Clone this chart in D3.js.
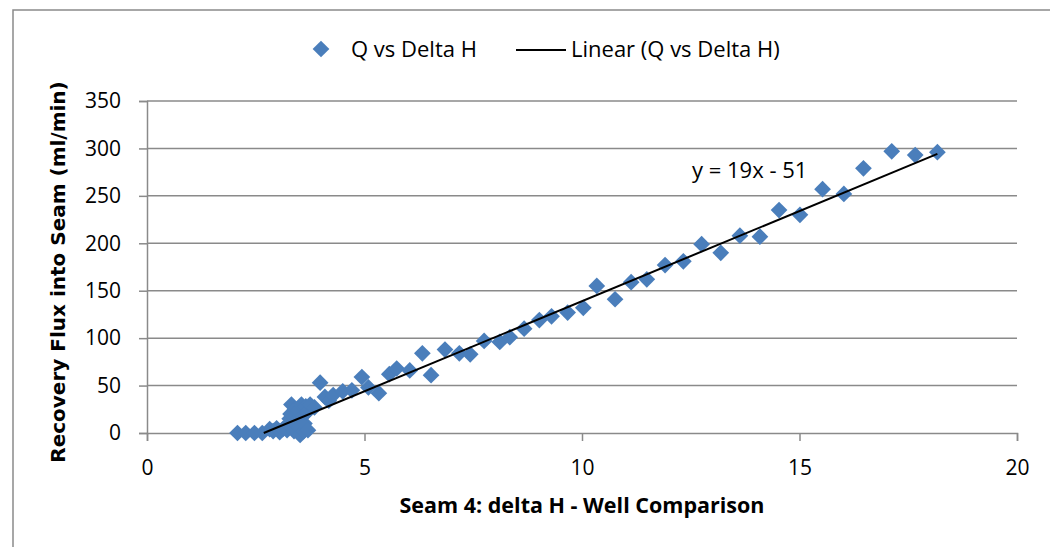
<!DOCTYPE html>
<html>
<head>
<meta charset="utf-8">
<script src="https://cdn.jsdelivr.net/npm/d3@7"></script>
<style>
  html, body { margin: 0; padding: 0; background: #fff; }
  svg { display: block; }
</style>
</head>
<body>
<svg id="chart" width="1050" height="547"></svg>
<script>
// ---- data ----
const deltaH = [2.08, 2.27, 2.47, 2.65, 2.82, 2.90, 2.98, 3.05, 3.12, 3.18, 3.22, 3.28, 3.30, 3.30, 3.32, 3.38, 3.40, 3.42, 3.45, 3.48, 3.50, 3.52, 3.55, 3.58, 3.60, 3.62, 3.65, 3.68, 3.70, 3.75, 3.85, 3.98, 4.09, 4.18, 4.28, 4.50, 4.71, 4.94, 5.09, 5.33, 5.57, 5.74, 6.04, 6.33, 6.53, 6.85, 7.18, 7.43, 7.75, 8.11, 8.34, 8.67, 9.02, 9.30, 9.67, 10.03, 10.34, 10.76, 11.13, 11.49, 11.91, 12.33, 12.75, 13.19, 13.63, 14.09, 14.53, 15.01, 15.53, 16.02, 16.47, 17.12, 17.66, 18.17];
const flowQ  = [0, 0, 0, 0, 4, 2, 5, 1, 4, 6, 3, 15, 8, 20, 30, 2, 25, 10, 14, 24, 6, -2, 30, 18, 2, 10, 28, 22, 3, 30, 27, 53, 38, 34, 40, 44, 45, 59, 48, 42, 62, 68, 66, 84, 61, 88, 84, 83, 97, 96, 101, 110, 119, 123, 127, 132, 155, 141, 159, 162, 177, 181, 199, 190, 208, 207, 235, 230, 257, 252, 279, 297, 293, 296];
const xTicks = [0, 5, 10, 15, 20];
const yTicks = [0, 50, 100, 150, 200, 250, 300, 350];
const trendSlope = 19;
const trendIntercept = -51;
const seriesName = "Q vs Delta H";
const trendName = "Linear (Q vs Delta H)";
const trendLabel = "y = 19x - 51";
const xTitle = "Seam 4: delta H - Well Comparison";
const yTitle = "Recovery Flux into Seam (ml/min)";

// ---- layout ----
const svg = d3.select("#chart");
const gridColor = "#8a8a8a";
const blue = "#4a7ebb";
const textFont = "'Open Sans', 'Liberation Sans', sans-serif";

const x = d3.scaleLinear().domain([0, 20]).range([147, 1017]);
const y = d3.scaleLinear().domain([0, 350]).range([433, 101]);

// outer frame (extends beyond the picture on right/bottom)
svg.append("rect").attr("x", 13).attr("y", 10).attr("width", 1100).attr("height", 600)
  .attr("fill", "none").attr("stroke", gridColor).attr("stroke-width", 1.5);

// gridlines
svg.append("g").selectAll("line").data(yTicks.filter(d => d > 0)).join("line")
  .attr("x1", x(0)).attr("x2", x(20))
  .attr("y1", d => y(d)).attr("y2", d => y(d))
  .attr("stroke", gridColor).attr("stroke-width", 1.5);

// y axis
const yAxis = svg.append("g").attr("transform", `translate(${x(0)},0)`)
  .call(d3.axisLeft(y).tickValues(yTicks).tickSize(8).tickPadding(18).tickFormat(d3.format("d")));
yAxis.select(".domain").attr("stroke", gridColor).attr("stroke-width", 1.5);
yAxis.selectAll(".tick line").attr("stroke", gridColor).attr("stroke-width", 1.5);
yAxis.selectAll("text").attr("font-family", textFont).attr("font-size", 21).attr("fill", "#000");

// x axis
const xAxis = svg.append("g").attr("transform", `translate(0,${y(0)})`)
  .call(d3.axisBottom(x).tickValues(xTicks).tickSize(8).tickPadding(19).tickFormat(d3.format("d")));
xAxis.select(".domain").attr("stroke", gridColor).attr("stroke-width", 1.5);
xAxis.selectAll(".tick line").attr("stroke", gridColor).attr("stroke-width", 1.5);
xAxis.selectAll("text").attr("font-family", textFont).attr("font-size", 21).attr("fill", "#000");

// data points
const data = deltaH.map((d, i) => ({ x: d, y: flowQ[i] }));
const diamond = d3.symbol().type(d3.symbolSquare).size(140);
svg.append("g").selectAll("path").data(data).join("path")
  .attr("d", diamond)
  .attr("transform", d => `translate(${x(d.x)},${y(d.y)}) rotate(45)`)
  .attr("fill", blue);

// trendline (clipped at y = 0)
const xStart = Math.max(d3.min(deltaH), -trendIntercept / trendSlope);
const xEnd = d3.max(deltaH);
svg.append("line")
  .attr("x1", x(xStart)).attr("y1", y(trendSlope * xStart + trendIntercept))
  .attr("x2", x(xEnd)).attr("y2", y(trendSlope * xEnd + trendIntercept))
  .attr("stroke", "#000").attr("stroke-width", 2);

// trend label
svg.append("text").attr("x", 692).attr("y", 178)
  .attr("font-family", textFont).attr("font-size", 22).text(trendLabel);

// legend
const lg = svg.append("g");
lg.append("path").attr("d", diamond).attr("transform", "translate(321,49) rotate(45)").attr("fill", blue);
lg.append("text").attr("x", 351).attr("y", 57).attr("font-family", textFont).attr("font-size", 22).text(seriesName);
lg.append("line").attr("x1", 516).attr("x2", 566).attr("y1", 50).attr("y2", 50).attr("stroke", "#000").attr("stroke-width", 2);
lg.append("text").attr("x", 571).attr("y", 57).attr("font-family", textFont).attr("font-size", 22).text(trendName);

// axis titles
svg.append("text").attr("x", 582).attr("y", 513).attr("text-anchor", "middle")
  .attr("font-family", textFont).attr("font-weight", "bold").attr("font-size", 21.5).text(xTitle);
svg.append("text").attr("transform", "translate(65,272) rotate(-90)").attr("text-anchor", "middle")
  .attr("font-family", "'DejaVu Sans', sans-serif").attr("font-weight", "bold").attr("font-size", 20).text(yTitle);
</script>
</body>
</html>
